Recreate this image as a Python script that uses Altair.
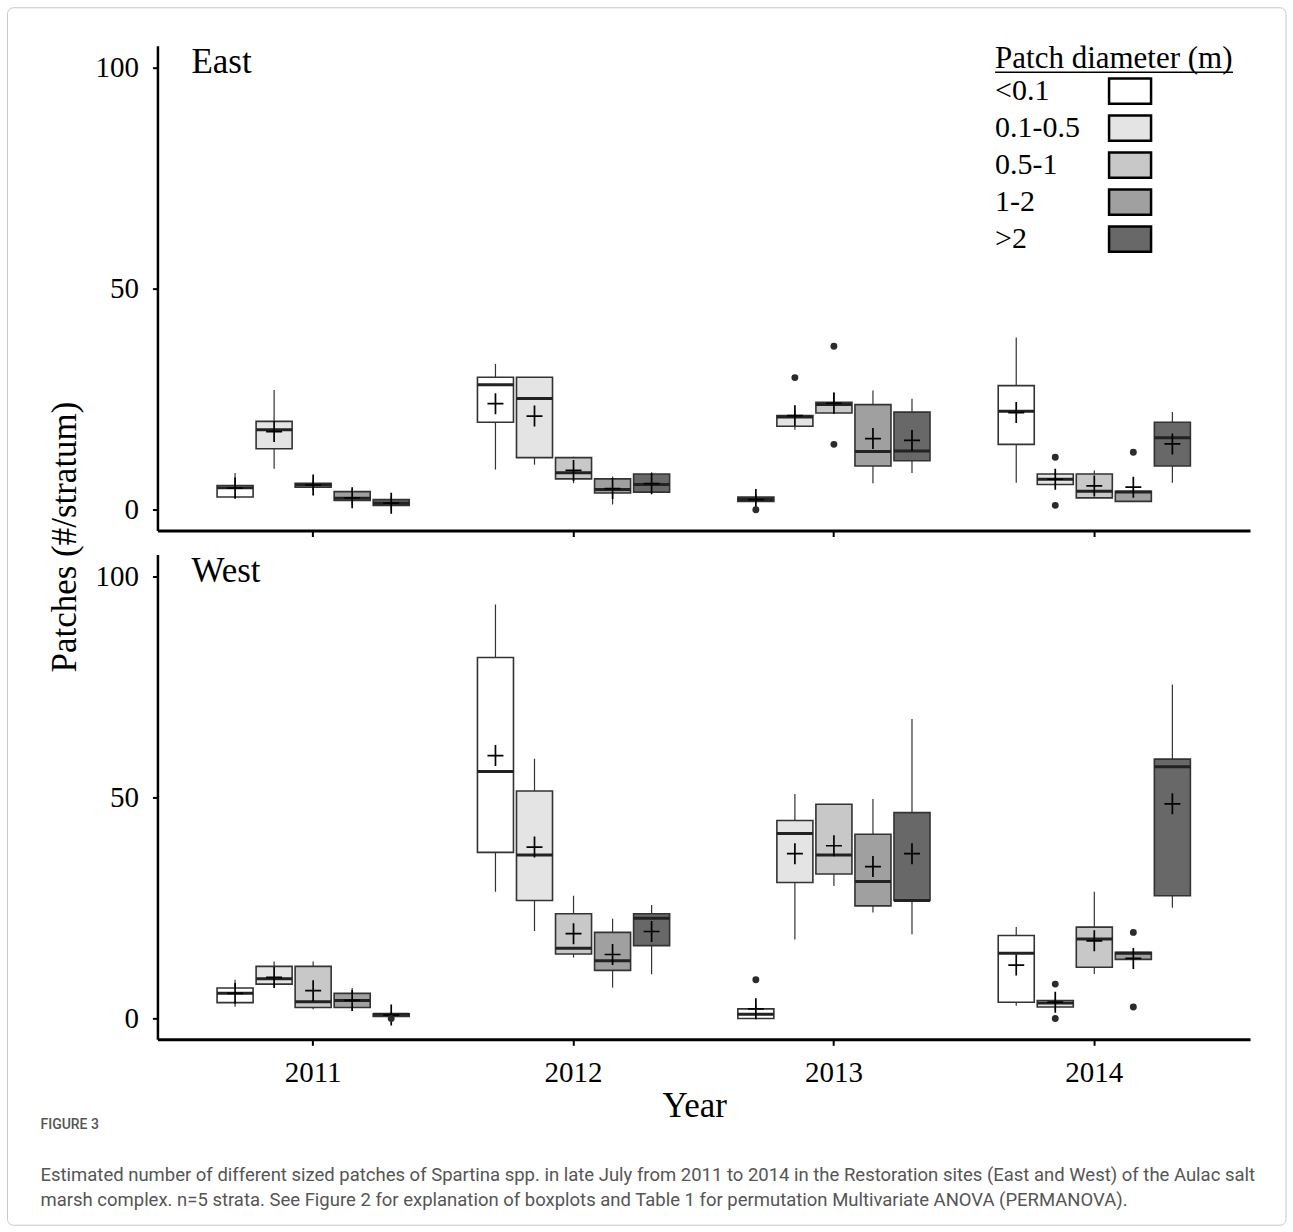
import altair as alt
import pandas as pd

YEARS = ["2011", "2012", "2013", "2014"]
CLASSES = ["<0.1", "0.1-0.5", "0.5-1", "1-2", ">2"]
FILLS = ["#ffffff", "#e4e4e4", "#c8c8c8", "#a0a0a0", "#686868"]

# East panel box statistics (year-major, class-minor)
E_LO = [2.5, 9.3, 4.4, 1.0, 0.0, 9.1, 10.2, 6.0, 1.2, 3.8, 1.5, 18.1, 21.9, 6.0, 8.3, 6.1, 5.5, 2.7, 1.9, 6.1]
E_Q1 = [2.9, 13.8, 5.1, 2.1, 1.0, 19.8, 11.8, 7.0, 3.8, 4.0, 1.9, 18.9, 21.9, 9.9, 11.1, 14.8, 5.7, 2.7, 1.9, 9.9]
E_MED = [5.0, 18.1, 5.6, 2.6, 1.5, 28.3, 25.2, 8.4, 4.6, 5.7, 2.3, 21.0, 23.8, 13.2, 13.3, 22.3, 6.9, 4.2, 4.0, 16.3]
E_Q3 = [5.5, 20.0, 6.0, 4.1, 2.3, 30.0, 30.0, 11.8, 7.0, 8.1, 2.85, 21.3, 24.3, 23.8, 22.1, 28.1, 8.1, 8.1, 4.2, 19.8]
E_HI = [8.3, 27.1, 6.8, 4.5, 3.0, 33.0, 30.0, 12.0, 7.5, 8.5, 3.5, 22.5, 26.6, 27.0, 25.1, 39.0, 8.5, 8.9, 5.0, 22.1]
E_MEAN = [4.9, 17.7, 5.6, 2.7, 1.5, 24.0, 21.2, 8.9, 4.8, 5.9, 2.3, 21.3, 24.1, 16.1, 15.7, 22.0, 6.9, 5.4, 5.1, 14.9]
E_OUT_YEAR = ["2013", "2013", "2013", "2013", "2014", "2014", "2014"]
E_OUT_CLASS = ["<0.1", "0.1-0.5", "0.5-1", "0.5-1", "0.1-0.5", "0.1-0.5", "1-2"]
E_OUT_VAL = [0.0, 29.9, 37.0, 14.8, 11.9, 1.0, 13.0]

# West panel box statistics
W_LO = [2.7, 7.5, 2.1, 1.7, 0.5, 28.7, 19.8, 13.8, 7.0, 10.0, 0.0, 17.9, 30.0, 24.0, 19.1, 2.9, 2.0, 10.1, 13.0, 25.1]
W_Q1 = [3.6, 7.8, 2.5, 2.5, 0.5, 37.6, 26.7, 14.6, 10.9, 16.5, 0.0, 30.8, 32.7, 25.5, 26.7, 3.7, 2.6, 11.6, 13.4, 27.8]
W_MED = [5.7, 9.0, 3.8, 4.1, 1.0, 55.9, 37.0, 15.9, 13.1, 22.7, 1.0, 41.9, 37.0, 31.0, 26.7, 14.8, 3.5, 18.0, 14.8, 57.0]
W_Q3 = [6.9, 11.8, 11.8, 5.7, 1.1, 81.7, 51.5, 23.7, 19.5, 23.7, 2.2, 44.8, 48.5, 41.7, 46.6, 18.8, 4.1, 20.7, 15.0, 58.7]
W_HI = [8.8, 12.9, 12.9, 6.9, 1.5, 93.7, 58.8, 27.8, 22.6, 25.7, 3.0, 50.8, 48.5, 49.7, 67.8, 20.7, 4.5, 28.7, 15.0, 75.6]
W_MEAN = [5.7, 9.3, 6.3, 4.1, 0.8, 59.5, 38.8, 19.2, 14.5, 19.7, 2.2, 37.3, 39.1, 34.4, 37.3, 12.1, 3.7, 17.6, 13.6, 48.6]
W_OUT_YEAR = ["2011", "2013", "2014", "2014", "2014", "2014"]
W_OUT_CLASS = [">2", "<0.1", "0.1-0.5", "0.1-0.5", "1-2", "1-2"]
W_OUT_VAL = [0.0, 8.8, 7.8, 0.0, 19.5, 2.6]

CAPTION_HEAD = "FIGURE 3"
CAPTION_1 = ("Estimated number of different sized patches of Spartina spp. in late July from 2011 to 2014 "
             "in the Restoration sites (East and West) of the Aulac salt")
CAPTION_2 = ("marsh complex. n=5 strata. See Figure 2 for explanation of boxplots and Table 1 "
             "for permutation Multivariate ANOVA (PERMANOVA).")

SERIF = "Liberation Serif"
W, H = 1093, 485
YDOM = [-4.7, 105]


def stats_df(lo, q1, med, q3, hi, mean):
    yrs = [y for y in YEARS for _ in CLASSES]
    cls = [c for _ in YEARS for c in CLASSES]
    return pd.DataFrame({"year": yrs, "cls": cls, "lo": lo, "q1": q1, "med": med,
                         "q3": q3, "hi": hi, "mean": mean})


color_scale = alt.Scale(domain=CLASSES, range=FILLS)
CROSS = "M-0.76,0H0.76M0,-1V1"


def panel(df, out, name, show_labels):
    xaxis = alt.Axis(labels=show_labels, title="Year" if show_labels else None,
                     domainColor="black", domainWidth=3, tickColor="black", tickWidth=2,
                     tickSize=6, labelFont=SERIF, labelFontSize=29, labelColor="black",
                     labelPadding=13, labelBaseline="top", labelAngle=0,
                     titleFont=SERIF, titleFontSize=35, titleFontWeight="normal",
                     titleColor="black", titleX=537, titleY=77, titleBaseline="alphabetic")
    yaxis = alt.Axis(values=[0, 50, 100], grid=False, domainColor="black", domainWidth=2.5,
                     tickColor="black", tickWidth=2, tickSize=5, labelFont=SERIF,
                     labelFontSize=29, labelColor="black", labelPadding=14,
                     title="Patches (#/stratum)" if not show_labels else None,
                     titleFont=SERIF, titleFontSize=35, titleFontWeight="normal",
                     titleColor="black", titleX=-93, titleY=491, titleAlign="center",
                     titleBaseline="middle", titleAngle=270)
    x = alt.X("year:N", sort=YEARS, axis=xaxis,
              scale=alt.Scale(domain=YEARS, paddingInner=0.25, paddingOuter=0.223))
    xo = alt.XOffset("cls:N", sort=CLASSES,
                     scale=alt.Scale(domain=CLASSES, paddingInner=0.077, paddingOuter=0.04))
    ysc = alt.Scale(domain=YDOM, nice=False, zero=False)

    base = alt.Chart(df).encode(x=x, xOffset=xo)
    whisk = base.mark_rule(color="#333333", strokeWidth=1.2).encode(
        y=alt.Y("lo:Q", scale=ysc, axis=yaxis), y2="hi:Q")
    box = base.mark_bar(stroke="#333333", strokeWidth=1.6, opacity=1).encode(
        y=alt.Y("q1:Q", scale=ysc), y2="q3:Q",
        color=alt.Color("cls:N", scale=color_scale, legend=None))
    med = base.mark_tick(color="#222222", thickness=3, size=36, opacity=1).encode(
        y=alt.Y("med:Q", scale=ysc))
    mean = base.mark_point(shape=CROSS, size=441, filled=False, color="black",
                           strokeWidth=1.7, opacity=1).encode(y=alt.Y("mean:Q", scale=ysc))
    outl = alt.Chart(out).mark_circle(size=48, color="#2b2b2b", opacity=1).encode(
        x=x, xOffset=xo, y=alt.Y("val:Q", scale=ysc))
    lbl = alt.Chart(pd.DataFrame({"t": [name]})).mark_text(
        font=SERIF, fontSize=35, align="left", baseline="alphabetic", color="black").encode(
        text="t:N", x=alt.value(34), y=alt.value(27))
    return alt.layer(whisk, box, med, mean, outl, lbl)


east_df = stats_df(E_LO, E_Q1, E_MED, E_Q3, E_HI, E_MEAN)
west_df = stats_df(W_LO, W_Q1, W_MED, W_Q3, W_HI, W_MEAN)
east_out = pd.DataFrame({"year": E_OUT_YEAR, "cls": E_OUT_CLASS, "val": E_OUT_VAL})
west_out = pd.DataFrame({"year": W_OUT_YEAR, "cls": W_OUT_CLASS, "val": W_OUT_VAL})

east_data = panel(east_df, east_out, "East", False)
west_data = panel(west_df, west_out, "West", True)

# Legend (manual, labels left of swatches)
leg_df = pd.DataFrame({"cls": CLASSES})
leg_y = alt.Y("cls:N", axis=None,
              scale=alt.Scale(type="point", domain=CLASSES, range=[45.5, 193.5], padding=0))
leg_sw = alt.Chart(leg_df).mark_point(shape="M-1,-0.6H1V0.6H-1Z", size=1764, filled=True,
                                      stroke="black", strokeWidth=2.5, opacity=1,
                                      strokeOpacity=1).encode(
    x=alt.value(973), y=leg_y, fill=alt.Fill("cls:N", scale=color_scale, legend=None))
leg_tx = alt.Chart(leg_df).mark_text(font=SERIF, fontSize=30, align="left",
                                     baseline="middle", color="black").encode(
    x=alt.value(838), y=leg_y, text="cls:N")
leg_title = alt.Chart(pd.DataFrame({"t": ["Patch diameter (m)"]})).mark_text(
    font=SERIF, fontSize=31, align="left", baseline="alphabetic", color="black").encode(
    text="t:N", x=alt.value(838), y=alt.value(22))
leg_line = alt.Chart(pd.DataFrame({"t": [0]})).mark_rule(color="black", strokeWidth=1.5).encode(
    x=alt.value(838), x2=alt.value(1076), y=alt.value(26.5))
frame = alt.Chart(pd.DataFrame({"t": [0]})).mark_rect(
    fill=None, stroke="#c8c8c8", strokeWidth=1, cornerRadius=6).encode(
    x=alt.value(-150), x2=alt.value(1129), y=alt.value(-38), y2=alt.value(1180))
legend = alt.layer(leg_sw, leg_tx, leg_title, leg_line, frame)

east = alt.layer(east_data, legend).resolve_scale(y="independent").properties(width=W, height=H)

cap_head = alt.Chart(pd.DataFrame({"t": [CAPTION_HEAD]})).mark_text(
    font="Roboto", fontSize=14, fontWeight=500, align="left", baseline="middle",
    color="#555555").encode(text="t:N", x=alt.value(-117), y=alt.value(571))
cap1 = alt.Chart(pd.DataFrame({"t": [CAPTION_1]})).mark_text(
    font="Roboto", fontSize=18.5, align="left", baseline="middle", color="#555555").encode(
    text="t:N", x=alt.value(-117), y=alt.value(621))
cap2 = alt.Chart(pd.DataFrame({"t": [CAPTION_2]})).mark_text(
    font="Roboto", fontSize=18.5, align="left", baseline="middle", color="#555555").encode(
    text="t:N", x=alt.value(-117), y=alt.value(646))

west = alt.layer(west_data, cap_head, cap1, cap2).properties(width=W, height=H)

chart = alt.vconcat(east, west, spacing=24, bounds="flush").properties(
    padding={"left": 6.5, "top": 6.5, "right": 6, "bottom": 6},
    background="white",
).configure_view(stroke=None)

chart.save("out.html", embed_options={"renderer": "svg", "actions": False})
